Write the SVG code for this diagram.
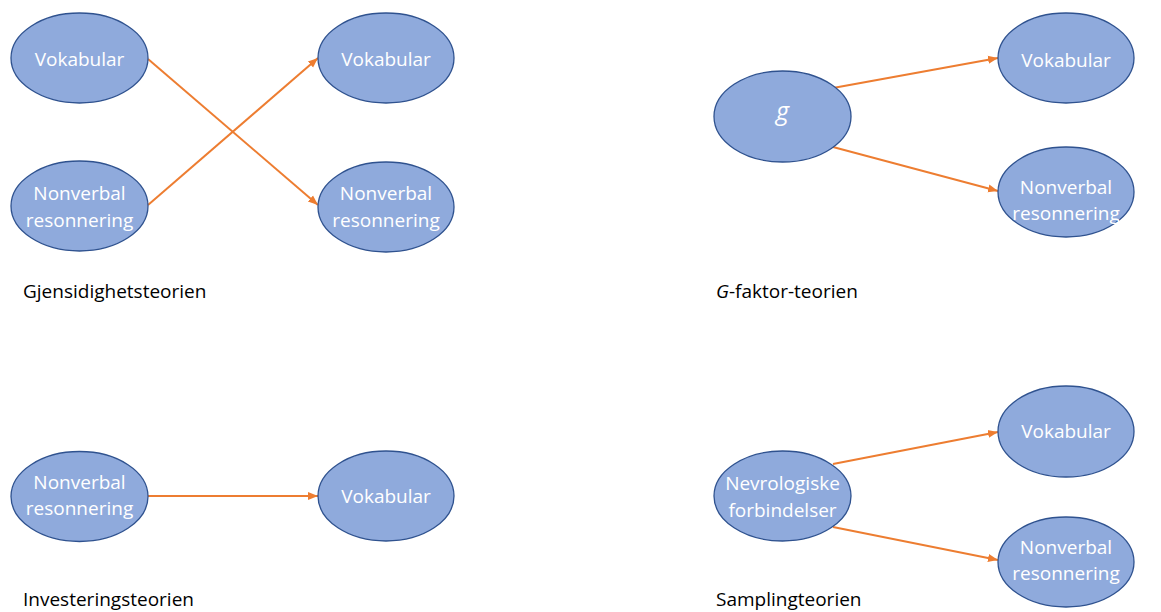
<svg xmlns="http://www.w3.org/2000/svg" width="1161" height="612" viewBox="0 0 1161 612">
  <style>
    .node ellipse { fill: #8FAADC; stroke: #2F528F; stroke-width: 1.3; }
    .node text { fill: #FFFFFF; font-family: "Open Sans", "Noto Sans", sans-serif; font-size: 19px; text-anchor: middle; }
    .node text.sym { font-size: 25px; font-style: italic; }
    .edge { stroke: #ED7D31; stroke-width: 2; fill: none; marker-end: url(#arrow); }
    .caption { fill: #000000; font-family: "Open Sans", "Noto Sans", sans-serif; font-size: 19px; }
  </style>
  <defs>
    <marker id="arrow" markerUnits="userSpaceOnUse" markerWidth="10" markerHeight="10" viewBox="0 0 10 10" refX="10" refY="5" orient="auto">
      <path d="M0,1 L10,5 L0,9 Z" fill="#ED7D31"/>
    </marker>
  </defs>
  <rect width="1161" height="612" fill="#FFFFFF"/>

  <!-- Connectors -->
  <g id="connectors">
    <line class="edge" x1="148" y1="59" x2="318" y2="205"/>
    <line class="edge" x1="148" y1="205" x2="318" y2="58"/>
    <line class="edge" x1="833" y1="88" x2="998" y2="58"/>
    <line class="edge" x1="833" y1="147" x2="998" y2="191"/>
    <line class="edge" x1="148" y1="496" x2="318" y2="496"/>
    <line class="edge" x1="833" y1="464" x2="998" y2="432"/>
    <line class="edge" x1="833" y1="527" x2="998" y2="560"/>
  </g>

  <!-- Gjensidighetsteorien -->
  <g id="gj-vokabular-a" class="node">
    <ellipse cx="79.5" cy="58" rx="68.5" ry="45"/>
    <text x="79.5" y="66">Vokabular</text>
  </g>
  <g id="gj-nonverbal-a" class="node">
    <ellipse cx="79.5" cy="206" rx="68.5" ry="45"/>
    <text x="79.5" y="200">Nonverbal</text>
    <text x="79.5" y="227">resonnering</text>
  </g>
  <g id="gj-vokabular-b" class="node">
    <ellipse cx="386" cy="58" rx="68" ry="45"/>
    <text x="386" y="66">Vokabular</text>
  </g>
  <g id="gj-nonverbal-b" class="node">
    <ellipse cx="386" cy="207" rx="68" ry="45"/>
    <text x="386" y="200">Nonverbal</text>
    <text x="386" y="227">resonnering</text>
  </g>
  <text class="caption" x="23" y="298">Gjensidighetsteorien</text>

  <!-- G-faktor-teorien -->
  <g id="gf-g" class="node">
    <ellipse cx="782.5" cy="116.5" rx="68.5" ry="45.5"/>
    <text class="sym" x="782.5" y="120">g</text>
  </g>
  <g id="gf-vokabular" class="node">
    <ellipse cx="1066" cy="58" rx="68" ry="45"/>
    <text x="1066" y="66.5">Vokabular</text>
  </g>
  <g id="gf-nonverbal" class="node">
    <ellipse cx="1066" cy="192" rx="68" ry="45"/>
    <text x="1066" y="193.5">Nonverbal</text>
    <text x="1066" y="220">resonnering</text>
  </g>
  <text class="caption" x="716" y="298"><tspan font-style="italic">G</tspan>-faktor-teorien</text>

  <!-- Investeringsteorien -->
  <g id="inv-nonverbal" class="node">
    <ellipse cx="79.5" cy="496.5" rx="68.5" ry="45"/>
    <text x="79.5" y="489">Nonverbal</text>
    <text x="79.5" y="515">resonnering</text>
  </g>
  <g id="inv-vokabular" class="node">
    <ellipse cx="386" cy="496" rx="68" ry="45"/>
    <text x="386" y="503">Vokabular</text>
  </g>
  <text class="caption" x="23" y="606">Investeringsteorien</text>

  <!-- Samplingteorien -->
  <g id="sm-nevro" class="node">
    <ellipse cx="782.5" cy="496" rx="68.5" ry="45"/>
    <text x="782.5" y="490">Nevrologiske</text>
    <text x="782.5" y="517">forbindelser</text>
  </g>
  <g id="sm-vokabular" class="node">
    <ellipse cx="1066" cy="431.5" rx="68" ry="45.5"/>
    <text x="1066" y="438">Vokabular</text>
  </g>
  <g id="sm-nonverbal" class="node">
    <ellipse cx="1066" cy="562" rx="68" ry="45"/>
    <text x="1066" y="554">Nonverbal</text>
    <text x="1066" y="580">resonnering</text>
  </g>
  <text class="caption" x="716" y="606">Samplingteorien</text>
</svg>
